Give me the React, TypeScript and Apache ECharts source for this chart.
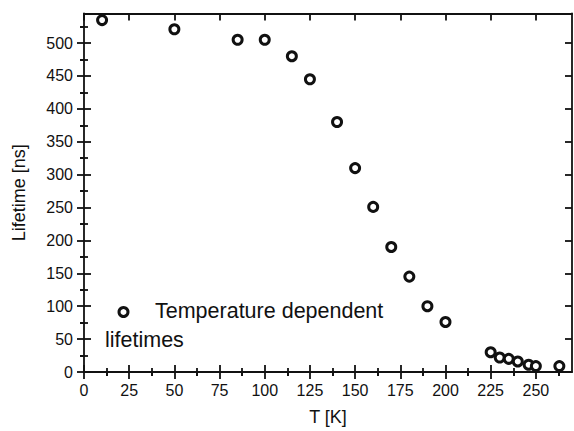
import React, { useEffect, useRef } from "react";
import * as echarts from "echarts";

const temperatures = [10, 50, 85, 100, 115, 125, 140, 150, 160, 170, 180, 190, 200, 225, 230, 235, 240, 246, 250, 263];
const lifetimes = [535, 521, 505, 505, 480, 445, 380, 310, 251, 190, 145, 100, 76, 30, 22, 20, 16, 11, 9, 9];

const xMajorTicks = [0, 25, 50, 75, 100, 125, 150, 175, 200, 225, 250];
const xMinorTicks = [12.5, 37.5, 62.5, 87.5, 112.5, 137.5, 162.5, 187.5, 212.5, 237.5, 262.5];
const yMajorTicks = [0, 50, 100, 150, 200, 250, 300, 350, 400, 450, 500];
const yMinorTicks = [25, 75, 125, 175, 225, 275, 325, 375, 425, 475, 525];

const X_MIN = 0;
const X_MAX = 270;
const Y_MIN = 0;
const Y_MAX = 545;

const INK = "#111";
const FONT = "'Liberation Sans', Arial, sans-serif";

export default function App() {
  const ref = useRef<HTMLDivElement>(null);

  useEffect(() => {
    if (!ref.current) return;
    const chart = echarts.init(ref.current, undefined, { renderer: "svg" });

    const baseX = (extra: any) => ({
      type: "value",
      min: X_MIN,
      max: X_MAX,
      splitLine: { show: false },
      axisLine: { show: false },
      axisLabel: { show: false },
      ...extra,
    });
    const baseY = (extra: any) => ({
      type: "value",
      min: Y_MIN,
      max: Y_MAX,
      splitLine: { show: false },
      axisLine: { show: false },
      axisLabel: { show: false },
      ...extra,
    });
    const tick = (values: number[], inside: boolean, length: number) => ({
      show: true,
      inside,
      length,
      customValues: values,
      lineStyle: { color: INK, width: 1.8 },
    });
    const frameLine = { show: true, onZero: false, lineStyle: { color: INK, width: 1.8 } };

    const option: any = {
      animation: false,
      backgroundColor: "#fff",
      textStyle: { fontFamily: FONT },
      grid: { left: 84, right: 2, top: 13.5, bottom: 58.5, containLabel: false },
      xAxis: [
        baseX({
          position: "bottom",
          axisLine: frameLine,
          axisTick: tick(xMajorTicks, false, 7),
          axisLabel: {
            show: true,
            customValues: xMajorTicks,
            color: INK,
            fontSize: 16,
            fontFamily: FONT,
            margin: 10,
          },
          name: "T [K]",
          nameLocation: "middle",
          nameGap: 36,
          nameTextStyle: { color: INK, fontSize: 18, fontFamily: FONT },
        }),
        baseX({ position: "bottom", axisTick: tick(xMajorTicks, true, 7) }),
        baseX({ position: "bottom", axisTick: tick(xMinorTicks, false, 4) }),
        baseX({ position: "bottom", axisTick: tick(xMinorTicks, true, 4) }),
        baseX({
          position: "top",
          axisLine: frameLine,
          axisTick: tick(xMajorTicks, true, 7),
        }),
        baseX({ position: "top", axisTick: tick(xMinorTicks, true, 4) }),
      ],
      yAxis: [
        baseY({
          position: "left",
          axisLine: frameLine,
          axisTick: tick(yMajorTicks, false, 7),
          axisLabel: {
            show: true,
            customValues: yMajorTicks,
            color: INK,
            fontSize: 16,
            fontFamily: FONT,
            margin: 11,
          },
          name: "Lifetime [ns]",
          nameLocation: "middle",
          nameGap: 56,
          nameTextStyle: { color: INK, fontSize: 18, fontFamily: FONT },
        }),
        baseY({ position: "left", axisTick: tick(yMajorTicks, true, 7) }),
        baseY({ position: "left", axisTick: tick(yMinorTicks, false, 4) }),
        baseY({ position: "left", axisTick: tick(yMinorTicks, true, 4) }),
        baseY({
          position: "right",
          axisLine: frameLine,
          axisTick: tick(yMajorTicks, true, 7),
        }),
        baseY({ position: "right", axisTick: tick(yMinorTicks, true, 4) }),
      ],
      series: [
        {
          name: "Temperature dependent lifetimes",
          type: "scatter",
          xAxisIndex: 0,
          yAxisIndex: 0,
          symbol: "circle",
          symbolSize: 9,
          itemStyle: { color: "#fff", borderColor: INK, borderWidth: 3, opacity: 1 },
          data: temperatures.map((t, i) => [t, lifetimes[i]]),
        },
      ],
      graphic: [
        {
          type: "circle",
          shape: { cx: 123.5, cy: 312, r: 4.5 },
          style: { fill: "#fff", stroke: INK, lineWidth: 3 },
        },
        {
          type: "text",
          x: 155,
          y: 311,
          style: {
            text: "Temperature dependent",
            fill: INK,
            font: `21.5px ${FONT}`,
            verticalAlign: "middle",
          },
        },
        {
          type: "text",
          x: 105,
          y: 340,
          style: {
            text: "lifetimes",
            fill: INK,
            font: `21.5px ${FONT}`,
            verticalAlign: "middle",
          },
        },
      ],
    };

    chart.setOption(option);
    return () => chart.dispose();
  }, []);

  return (
    <div
      ref={ref}
      style={{ position: "fixed", left: 0, top: 0, width: 574, height: 431 }}
    />
  );
}
